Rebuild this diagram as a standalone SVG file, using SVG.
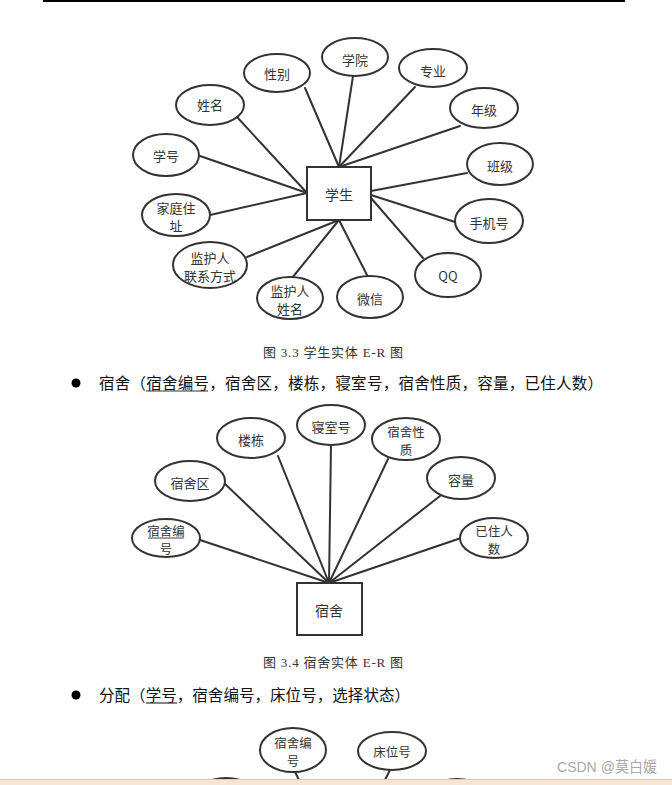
<svg xmlns="http://www.w3.org/2000/svg" width="672" height="785" viewBox="0 0 672 785">
<style>
.e{fill:#fff;stroke:#333;stroke-width:2}
.b{fill:#fff;stroke:#333;stroke-width:2}
.t{font-family:"Noto Sans CJK SC","Noto Sans",sans-serif;font-size:13px;fill:#333;text-anchor:middle;dominant-baseline:central}
.s{font-size:12.5px}
.bt{font-family:"Noto Sans CJK SC","Noto Sans",sans-serif;font-size:14px;fill:#333;text-anchor:middle;dominant-baseline:central}
.c line{stroke:#333;stroke-width:2;stroke-linecap:round}
.cap{font-family:"Liberation Serif","Noto Sans CJK SC",serif;font-size:13px;fill:#333}
.para{font-family:"Liberation Serif","Noto Sans CJK SC",serif;font-size:15.5px;fill:#111}
.u{stroke:#333;stroke-width:1.2}
</style>
<rect width="672" height="785" fill="#fff"/>
<line x1="43" y1="1" x2="625" y2="1" stroke="#000" stroke-width="2"/>

<!-- Student E-R connectors -->
<g id="connectors-student" class="c">
<line x1="305" y1="88" x2="339" y2="167"/>
<line x1="353" y1="76" x2="339" y2="167"/>
<line x1="415" y1="87" x2="339" y2="167"/>
<line x1="460" y1="126" x2="339" y2="167"/>
<line x1="237" y1="117" x2="307" y2="193"/>
<line x1="200" y1="156" x2="307" y2="193"/>
<line x1="210" y1="215" x2="307" y2="193"/>
<line x1="467" y1="173" x2="371" y2="191"/>
<line x1="455" y1="222" x2="371" y2="195"/>
<line x1="423" y1="258" x2="371" y2="198"/>
<line x1="368" y1="277" x2="339" y2="220"/>
<line x1="292" y1="278" x2="339" y2="220"/>
<line x1="247" y1="257" x2="339" y2="220"/>
</g>

<g id="student"><rect class="b" x="307" y="167" width="64" height="53"/><text class="bt" x="339" y="194">学生</text></g>
<g id="xingbie"><ellipse class="e" cx="277" cy="73" rx="33" ry="19"/><text class="t" x="277" y="73">性别</text></g>
<g id="xueyuan"><ellipse class="e" cx="355" cy="57" rx="33" ry="19"/><text class="t" x="355" y="59">学院</text></g>
<g id="zhuanye"><ellipse class="e" cx="433" cy="68" rx="34" ry="19"/><text class="t" x="433" y="70">专业</text></g>
<g id="nianji"><ellipse class="e" cx="484" cy="108" rx="34" ry="20"/><text class="t" x="484" y="109">年级</text></g>
<g id="xingming"><ellipse class="e" cx="210" cy="105" rx="34" ry="20"/><text class="t" x="210" y="104">姓名</text></g>
<g id="xuehao"><ellipse class="e" cx="166" cy="155" rx="33" ry="21"/><text class="t" x="166" y="155">学号</text></g>
<g id="banji"><ellipse class="e" cx="500" cy="164" rx="33" ry="21"/><text class="t" x="500" y="165">班级</text></g>
<g id="jiating"><ellipse class="e" cx="176" cy="215" rx="34" ry="21"/><text class="t" x="176" y="207">家庭住</text><text class="t" x="176" y="225">址</text></g>
<g id="shouji"><ellipse class="e" cx="489" cy="221" rx="34" ry="22"/><text class="t" x="489" y="222">手机号</text></g>
<g id="qq"><ellipse class="e" cx="448" cy="275" rx="33" ry="22"/><text class="t" x="448" y="275">QQ</text></g>
<g id="lianxi"><ellipse class="e" cx="210" cy="265" rx="37" ry="23"/><text class="t" x="210" y="257">监护人</text><text class="t" x="210" y="275">联系方式</text></g>
<g id="jianhuren"><ellipse class="e" cx="290" cy="298" rx="33" ry="21"/><text class="t" x="290" y="290">监护人</text><text class="t" x="290" y="308">姓名</text></g>
<g id="weixin"><ellipse class="e" cx="370" cy="297" rx="33" ry="21"/><text class="t" x="370" y="298">微信</text></g>

<text class="cap" x="263" y="357" textLength="140" lengthAdjust="spacing">图 3.3 学生实体 E-R 图</text>
<circle cx="76" cy="383" r="4.5" fill="#000"/>
<text class="para" x="99" y="389" textLength="504" lengthAdjust="spacing">宿舍（宿舍编号，宿舍区，楼栋，寝室号，宿舍性质，容量，已住人数）</text>
<line class="u" x1="146" y1="391" x2="208" y2="391"/>

<!-- Dorm E-R connectors -->
<g id="connectors-dorm" class="c">
<line x1="200" y1="540" x2="329" y2="583"/>
<line x1="224" y1="483" x2="329" y2="583"/>
<line x1="278" y1="456" x2="329" y2="583"/>
<line x1="331" y1="445" x2="329" y2="583"/>
<line x1="388" y1="459" x2="329" y2="583"/>
<line x1="440" y1="496" x2="329" y2="583"/>
<line x1="461" y1="538" x2="329" y2="583"/>
</g>

<g id="dorm"><rect class="b" x="297" y="583" width="65" height="52"/><text class="bt" x="329" y="610">宿舍</text></g>
<g id="sushebianhao"><ellipse class="e" cx="166" cy="538" rx="34" ry="19"/><text class="t s" x="166" y="530">宿舍编</text><line x1="148" y1="538" x2="184" y2="538" stroke="#444" stroke-width="1"/><text class="t s" x="166" y="548">号</text></g>
<g id="shequ"><ellipse class="e" cx="190" cy="481" rx="35" ry="20"/><text class="t" x="190" y="482">宿舍区</text></g>
<g id="loudong"><ellipse class="e" cx="251" cy="438" rx="34" ry="20"/><text class="t" x="251" y="439">楼栋</text></g>
<g id="qinshihao"><ellipse class="e" cx="331" cy="425" rx="34" ry="20"/><text class="t" x="331" y="426">寝室号</text></g>
<g id="xingzhi"><ellipse class="e" cx="406" cy="439" rx="34" ry="21"/><text class="t s" x="406" y="431">宿舍性</text><text class="t s" x="406" y="449">质</text></g>
<g id="rongliang"><ellipse class="e" cx="461" cy="478" rx="34" ry="21"/><text class="t" x="461" y="479">容量</text></g>
<g id="yizhu"><ellipse class="e" cx="494" cy="538" rx="34" ry="20"/><text class="t s" x="494" y="530">已住人</text><text class="t s" x="494" y="548">数</text></g>

<text class="cap" x="263" y="667" textLength="140" lengthAdjust="spacing">图 3.4 宿舍实体 E-R 图</text>
<circle cx="76" cy="695" r="4.5" fill="#000"/>
<text class="para" x="99" y="701" textLength="311" lengthAdjust="spacing">分配（学号，宿舍编号，床位号，选择状态）</text>
<line class="u" x1="146" y1="703" x2="177" y2="703"/>

<!-- Allocation E-R (partial) -->
<g id="connectors-alloc" class="c">
<line x1="295" y1="772" x2="300" y2="782"/>
<line x1="390" y1="770" x2="384" y2="782"/>
</g>
<g id="a-sushebianhao"><ellipse class="e" cx="293" cy="750" rx="33" ry="22"/><text class="t s" x="293" y="742">宿舍编</text><text class="t s" x="293" y="760">号</text></g>
<g id="a-chuangwei"><ellipse class="e" cx="392" cy="751" rx="34" ry="19"/><text class="t s" x="392" y="751">床位号</text></g>
<g id="a-left"><ellipse class="e" cx="226" cy="800" rx="34" ry="22"/></g>
<g id="a-right"><ellipse class="e" cx="457" cy="801" rx="34" ry="22"/></g>

<text x="607" y="767" text-anchor="middle" dominant-baseline="central" font-family="Liberation Sans,Noto Sans CJK SC,sans-serif" font-size="14.5" fill="#a8a8a8" textLength="100" lengthAdjust="spacingAndGlyphs">CSDN @莫白媛</text>
<rect x="0" y="779" width="672" height="6" fill="#f7e5d3"/>
<line x1="0" y1="779.5" x2="672" y2="779.5" stroke="#e3cbb3" stroke-width="1"/>
</svg>
